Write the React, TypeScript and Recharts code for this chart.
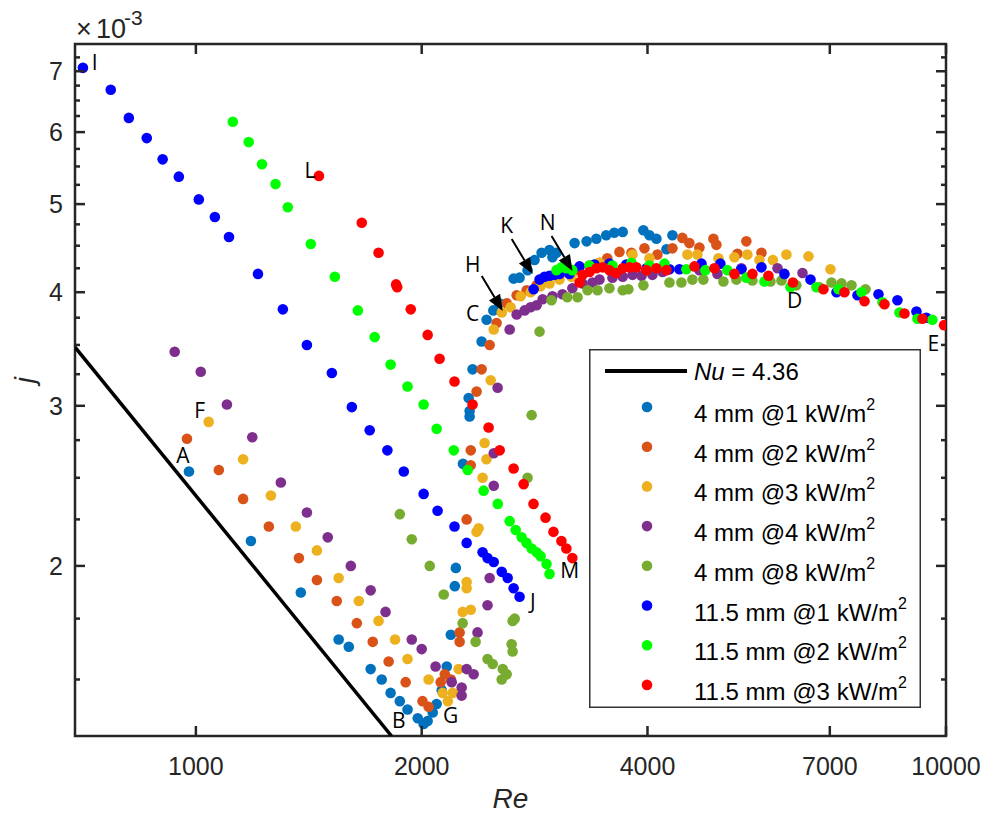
import React from 'react';
import { ScatterChart, Scatter, XAxis, YAxis, Legend, ReferenceArea } from 'recharts';

// ---------------- data ----------------
const xTicks = [1000, 2000, 4000, 7000, 10000];
const yMajorTicks = [2, 3, 4, 5, 6, 7];
const yMinorTicks = [1.5, 1.75, 2.25, 2.5, 2.75, 3.25, 3.5, 3.75, 4.25, 4.5, 4.75, 5.25, 5.5, 5.75, 6.25, 6.5, 6.75, 7.25];
const xDomain = [690, 10000];
const yDomain = [1.3, 7.5];

// Nu = 4.36 laminar line (j in units of 1e-3)
const nuRe = [690, 1823];
const nuJ = [3.48, 1.3];

const re4mm1 = [979, 1184, 1380, 1550, 1599, 1710, 1769, 1818, 1870, 1915, 1976, 2012, 2037, 2069, 2094, 2127, 2160, 2187, 2214, 2221, 2270, 2317, 2317, 2310, 2338, 2404, 2441, 2492, 2538, 2652, 2701, 2768, 2828, 2890, 2961, 3025, 2988, 3198, 3318, 3419, 3524, 3612, 3707, 3950, 4024, 4111, 4240, 4318];
const j4mm1 = [2.54, 2.13, 1.87, 1.66, 1.63, 1.54, 1.5, 1.45, 1.42, 1.39, 1.36, 1.34, 1.35, 1.38, 1.41, 1.46, 1.55, 1.68, 1.9, 1.99, 2.59, 2.92, 2.96, 3.06, 3.29, 3.53, 3.73, 3.82, 3.89, 4.14, 4.15, 4.23, 4.34, 4.42, 4.45, 4.42, 4.37, 4.53, 4.55, 4.58, 4.62, 4.65, 4.66, 4.68, 4.62, 4.58, 4.46, 4.62];

const re4mm2 = [973, 1073, 1156, 1251, 1372, 1450, 1541, 1639, 1721, 1807, 1904, 2005, 2043, 2120, 2147, 2188, 2247, 2247, 2296, 2325, 2325, 2367, 2404, 2464, 2517, 2596, 2677, 2760, 2846, 2943, 3053, 3198, 3348, 3452, 3535, 3670, 3808, 3963, 4124, 4318, 4452, 4549, 4691, 4897, 4942, 5272, 5418, 5675];
const j4mm2 = [2.76, 2.55, 2.37, 2.21, 2.04, 1.93, 1.83, 1.73, 1.65, 1.57, 1.49, 1.42, 1.4, 1.49, 1.52, 1.5, 1.65, 1.69, 2.25, 2.58, 2.68, 3.11, 3.29, 3.5, 3.7, 3.89, 3.97, 4.02, 4.07, 4.13, 4.17, 4.23, 4.28, 4.31, 4.36, 4.43, 4.42, 4.47, 4.4, 4.47, 4.59, 4.53, 4.48, 4.58, 4.51, 4.41, 4.55, 4.42];

const re4mm3 = [1040, 1156, 1259, 1359, 1450, 1550, 1649, 1752, 1843, 1915, 2043, 2133, 2167, 2200, 2240, 2268, 2296, 2296, 2325, 2367, 2382, 2411, 2440, 2426, 2472, 2495, 2557, 2628, 2710, 2794, 2881, 2961, 3053, 3168, 3452, 3820, 4024, 4521, 4662, 4973, 5223, 5435, 5640, 5878, 6127, 6557, 7014];
const j4mm3 = [2.88, 2.62, 2.39, 2.21, 2.08, 1.94, 1.83, 1.74, 1.66, 1.58, 1.5, 1.45, 1.42, 1.45, 1.54, 1.78, 1.92, 1.89, 1.79, 2.18, 2.2, 2.5, 2.62, 2.73, 3.2, 3.64, 3.8, 3.85, 3.96, 4.0, 4.06, 4.09, 4.13, 4.16, 4.31, 4.4, 4.36, 4.4, 4.4, 4.36, 4.37, 4.4, 4.34, 4.34, 4.4, 4.38, 4.24];

const re4mm4 = [937, 1015, 1100, 1189, 1298, 1406, 1499, 1609, 1710, 1790, 1940, 2000, 2087, 2193, 2261, 2261, 2296, 2346, 2374, 2448, 2464, 2495, 2495, 2525, 2620, 2677, 2743, 2794, 2846, 2899, 2988, 3081, 3176, 3277, 3378, 3452, 3592, 3707, 3820, 3928, 4061, 4189, 4691, 4958, 5336, 5962, 6437];
const j4mm4 = [3.44, 3.27, 3.01, 2.77, 2.47, 2.29, 2.15, 2.0, 1.88, 1.78, 1.66, 1.62, 1.55, 1.49, 1.47, 1.44, 1.54, 1.52, 1.69, 1.81, 1.94, 2.45, 2.66, 3.14, 3.64, 3.78, 3.82, 3.85, 3.87, 3.93, 3.96, 3.98, 4.04, 4.09, 4.1, 4.13, 4.15, 4.16, 4.18, 4.17, 4.18, 4.21, 4.23, 4.19, 4.25, 4.25, 4.2];

const re4mm8 = [1870, 1940, 2050, 2140, 2268, 2360, 2448, 2487, 2565, 2596, 2557, 2636, 2644, 2644, 2661, 2768, 2803, 2872, 2979, 3127, 3227, 3328, 3431, 3559, 3707, 3772, 3950, 4279, 4439, 4591, 4748, 5050, 5255, 5520, 5834, 6035, 6317, 6781, 7036, 7256, 7482, 7811];
const j4mm8 = [2.28, 2.14, 2.0, 1.86, 1.73, 1.65, 1.58, 1.56, 1.54, 1.52, 1.5, 1.64, 1.61, 1.74, 1.75, 2.5, 2.93, 3.62, 3.92, 3.95, 3.95, 4.02, 4.02, 4.04, 4.02, 4.03, 4.07, 4.1, 4.1, 4.13, 4.13, 4.11, 4.13, 4.12, 4.11, 4.12, 4.07, 4.05, 4.1, 4.09, 4.07, 4.03];

const re115mm1 = [707, 770, 814, 860, 903, 949, 1009, 1060, 1107, 1210, 1306, 1406, 1518, 1614, 1705, 1800, 1893, 2012, 2100, 2212, 2296, 2411, 2448, 2495, 2557, 2604, 2652, 2701, 2820, 2872, 2916, 2961, 3007, 3053, 3148, 3247, 3399, 3559, 3748, 3989, 4279, 4412, 4721, 5003, 5336, 5675, 6090, 6597, 7145, 7621, 8128, 8615, 9133, 9417];
const j115mm1 = [7.06, 6.68, 6.22, 5.91, 5.6, 5.36, 5.06, 4.84, 4.6, 4.19, 3.83, 3.5, 3.26, 2.99, 2.82, 2.68, 2.54, 2.4, 2.3, 2.21, 2.12, 2.07, 2.04, 2.02, 1.97, 1.94, 1.89, 1.85, 4.03, 4.13, 4.16, 4.17, 4.18, 4.19, 4.19, 4.27, 4.29, 4.3, 4.29, 4.25, 4.24, 4.24, 4.3, 4.3, 4.24, 4.26, 4.19, 4.13, 4.0, 3.97, 3.98, 3.92, 3.81, 3.75];

const re115mm2 = [1120, 1176, 1225, 1277, 1326, 1423, 1532, 1644, 1731, 1818, 1915, 2012, 2094, 2207, 2303, 2419, 2526, 2620, 2669, 2718, 2760, 2803, 2846, 2881, 2934, 2961, 3025, 3071, 3118, 3176, 3348, 3592, 3808, 4024, 4214, 4507, 4778, 5112, 5418, 5728, 6203, 6719, 7188, 7715, 8229, 8669, 9160, 9590];
const j115mm2 = [6.16, 5.85, 5.53, 5.26, 4.96, 4.52, 4.16, 3.82, 3.57, 3.33, 3.15, 3.01, 2.83, 2.68, 2.55, 2.42, 2.34, 2.24, 2.19, 2.15, 2.12, 2.09, 2.07, 2.05, 2.01, 1.96, 4.23, 4.26, 4.25, 4.23, 4.28, 4.28, 4.31, 4.28, 4.3, 4.24, 4.23, 4.23, 4.15, 4.11, 4.05, 4.05, 4.03, 4.0, 3.9, 3.8, 3.74, 3.73];

const re115mm3 = [1459, 1664, 1752, 1849, 1855, 1934, 2037, 2113, 2212, 2338, 2456, 2541, 2652, 2735, 2819, 2925, 2997, 3071, 3118, 3176, 3247, 3277, 3348, 3419, 3487, 3559, 3633, 3707, 3785, 3866, 3987, 4111, 4240, 4620, 4912, 5223, 5520, 5798, 6250, 6865, 7322, 7787, 8279, 8803, 9302, 9940];
const j115mm3 = [5.37, 4.77, 4.42, 4.08, 4.05, 3.83, 3.59, 3.38, 3.19, 3.01, 2.84, 2.68, 2.56, 2.46, 2.34, 2.26, 2.18, 2.13, 2.09, 2.04, 4.1, 4.18, 4.21, 4.25, 4.26, 4.23, 4.2, 4.25, 4.26, 4.26, 4.23, 4.25, 4.23, 4.27, 4.25, 4.19, 4.19, 4.17, 4.1, 4.03, 4.0, 3.91, 3.88, 3.79, 3.74, 3.68];

const seriesNames = ['4 mm @1 kW/m', '4 mm @2 kW/m', '4 mm @3 kW/m', '4 mm @4 kW/m', '4 mm @8 kW/m', '11.5 mm @1 kW/m', '11.5 mm @2 kW/m', '11.5 mm @3 kW/m'];
const seriesColors = ['#0072BD', '#D95319', '#EDB120', '#7E2F8E', '#77AC30', '#0000FF', '#00FF00', '#FF0000'];
const seriesRe = [re4mm1, re4mm2, re4mm3, re4mm4, re4mm8, re115mm1, re115mm2, re115mm3];
const seriesJ = [j4mm1, j4mm2, j4mm3, j4mm4, j4mm8, j115mm1, j115mm2, j115mm3];

// point annotations (letter, Re, j)
const labelTexts = ['I', 'L', 'F', 'A', 'B', 'G', 'C', 'H', 'K', 'N', 'D', 'E', 'M', 'J'];
const labelRe = [733, 1419, 1012, 961, 1864, 2186, 2339, 2339, 2596, 2944, 6283, 9622, 3149, 2812];
const labelJ = [7.17, 5.45, 2.97, 2.65, 1.354, 1.371, 3.795, 4.3, 4.744, 4.78, 3.923, 3.518, 1.98, 1.83];

// arrow tips (H, K, N)
const arrowRe = [2565, 2812, 3178];
const arrowJ = [3.815, 4.189, 4.221];

// ---------------- build ----------------
const zip = (re: number[], j: number[]) => re.map((r, i) => ({ re: r, j: j[i] }));
const series = seriesNames.map((name, i) => ({ name, color: seriesColors[i], data: zip(seriesRe[i], seriesJ[i]) }));
const nuData = zip(nuRe, nuJ);
const labels = labelTexts.map((t, i) => ({ t, re: labelRe[i], j: labelJ[i] }));
const arrows = zip(arrowRe, arrowJ);
const yTicks = [...yMajorTicks, ...yMinorTicks].sort((a, b) => a - b);

const FONT = '"Liberation Sans", Arial, Helvetica, sans-serif';
const ANNOT_FONT = '"Open Sans", "Noto Sans", sans-serif';
const AX = '#262626';

// ---------------- ticks ----------------
function BottomTick(props: any) {
  const { x, y, payload } = props;
  return (
    <g>
      <line x1={x} x2={x} y1={y} y2={y - 10} stroke={AX} strokeWidth={2.5} />
      <text x={x} y={y + 39} textAnchor="middle" fontSize={25} fontFamily={FONT} fill={AX}>{payload.value}</text>
    </g>
  );
}
function TopTick(props: any) {
  const { x, y } = props;
  return <line x1={x} x2={x} y1={y} y2={y + 10} stroke={AX} strokeWidth={2.5} />;
}
function LeftTick(props: any) {
  const { x, y, payload } = props;
  const major = yMajorTicks.includes(payload.value);
  return (
    <g>
      <line x1={x} x2={x + (major ? 10 : 5)} y1={y} y2={y} stroke={AX} strokeWidth={2.5} />
      {major && (
        <text x={x - 12} y={y + 9} textAnchor="end" fontSize={25} fontFamily={FONT} fill={AX}>{payload.value}</text>
      )}
    </g>
  );
}
function RightTick(props: any) {
  const { x, y, payload } = props;
  const major = yMajorTicks.includes(payload.value);
  return <line x1={x} x2={x - (major ? 10 : 5)} y1={y} y2={y} stroke={AX} strokeWidth={2.5} />;
}

// ---------------- axis titles ----------------
function ReTitle(props: any) {
  const vb = props.viewBox || { x: 75, y: 736, width: 871, height: 80 };
  return (
    <text x={vb.x + vb.width / 2} y={vb.y + 72} textAnchor="middle" fontSize={28} fontStyle="italic" fontFamily={FONT} fill={AX}>Re</text>
  );
}
function JTitle(props: any) {
  const vb = props.viewBox || { x: 0, y: 44, width: 75, height: 692 };
  const cx = vb.x + 34;
  const cy = vb.y + vb.height / 2 - 10;
  return (
    <text x={cx} y={cy} transform={`rotate(-90, ${cx}, ${cy})`} textAnchor="middle" fontSize={28} fontStyle="italic" fontFamily={FONT} fill={AX}>j</text>
  );
}
function ExpTitle(props: any) {
  const vb = props.viewBox || { x: 75, y: 43, width: 871, height: 1 };
  const bx = vb.x;
  const by = vb.y - 5;
  return (
    <g>
      <text x={bx + 1} y={by} style={{ fontSize: 27, fontFamily: FONT, fill: AX }}>×</text>
      <text x={bx + 21} y={by} style={{ fontSize: 27, fontFamily: FONT, fill: AX }}>10</text>
      <text x={bx + 49} y={by - 13} style={{ fontSize: 21, fontFamily: FONT, fill: AX }}>-3</text>
    </g>
  );
}

// ---------------- shapes ----------------
const dotShape = (color: string) => (p: any) => <circle cx={p.cx} cy={p.cy} r={5.3} fill={color} />;

function LabelShape(p: any) {
  return (
    <text x={p.cx} y={p.cy} textAnchor="middle" dominantBaseline="central" fontSize={21} fontFamily={ANNOT_FONT} fill="#000">
      {p.payload.t}
    </text>
  );
}

function ArrowShape(p: any) {
  const { cx, cy } = p;
  const dx = 21, dy = 35;
  const L = Math.hypot(dx, dy);
  const ux = dx / L, uy = dy / L;
  const head = 16, half = 6.5;
  const bx = cx - ux * head, by = cy - uy * head;
  const px = -uy, py = ux;
  return (
    <g>
      <line x1={cx - dx} y1={cy - dy} x2={bx} y2={by} stroke="#000" strokeWidth={2} />
      <polygon points={`${cx},${cy} ${bx + px * half},${by + py * half} ${bx - px * half},${by - py * half}`} fill="#000" />
    </g>
  );
}

// ---------------- legend ----------------
function LegendBox() {
  return (
    <svg width={332} height={359} style={{ display: 'block' }}>
      <rect x={0.75} y={0.75} width={330.5} height={357.5} fill="#fff" stroke="#333" strokeWidth={1.5} />
      <line x1={16} x2={98} y1={22} y2={22} stroke="#000" strokeWidth={4} />
      <text x={105} y={31} fontSize={24} fontFamily={FONT} fill="#000">
        <tspan fontStyle="italic">Nu</tspan>
        {' = 4.36'}
      </text>
      {series.map((s, i) => {
        const cy = 58 + i * 39.7;
        return (
          <g key={s.name}>
            <circle cx={58} cy={cy} r={5.3} fill={s.color} />
            <text x={105} y={cy + 15} fontSize={24} fontFamily={FONT} fill="#000">
              {s.name}
              <tspan dy={-12} fontSize={16}>2</tspan>
            </text>
          </g>
        );
      })}
    </svg>
  );
}

export default function App() {
  return (
    <div style={{ width: 985, height: 816, background: '#fff' }}>
      <style>{'body{margin:0;background:#fff}'}</style>
      <ScatterChart width={985} height={816} margin={{ top: 43, right: 38, bottom: 0, left: 0 }}>
        <XAxis xAxisId="b" dataKey="re" type="number" scale="log" domain={xDomain} allowDataOverflow ticks={xTicks} interval={0}
          tickSize={0} tickMargin={0} tickLine={false} axisLine={false} tick={<BottomTick />} height={80} label={<ReTitle />} />
        <XAxis xAxisId="t" orientation="top" dataKey="re" type="number" scale="log" domain={xDomain} allowDataOverflow ticks={xTicks} interval={0}
          tickSize={0} tickMargin={0} tickLine={false} axisLine={false} tick={<TopTick />} height={1} label={<ExpTitle />} />
        <YAxis yAxisId="l" dataKey="j" type="number" scale="log" domain={yDomain} allowDataOverflow ticks={yTicks} interval={0}
          tickSize={0} tickMargin={0} tickLine={false} axisLine={false} tick={<LeftTick />} width={75} label={<JTitle />} />
        <YAxis yAxisId="r" orientation="right" dataKey="j" type="number" scale="log" domain={yDomain} allowDataOverflow ticks={yTicks} interval={0}
          tickSize={0} tickMargin={0} tickLine={false} axisLine={false} tick={<RightTick />} width={1} />
        <Scatter name="Nu = 4.36" data={nuData} xAxisId="t" yAxisId="r" line={{ stroke: '#000', strokeWidth: 3.5 }} lineType="joint"
          shape={() => <g />} isAnimationActive={false} />
        {series.map((s) => (
          <Scatter key={s.name} name={s.name + '²'} data={s.data} xAxisId="b" yAxisId="l" fill={s.color}
            shape={dotShape(s.color)} isAnimationActive={false} />
        ))}
        <Scatter data={labels} xAxisId="b" yAxisId="l" shape={LabelShape} isAnimationActive={false} legendType="none" />
        <Scatter data={arrows} xAxisId="b" yAxisId="l" shape={ArrowShape} isAnimationActive={false} legendType="none" />
        <ReferenceArea xAxisId="b" yAxisId="l" x1={xDomain[0]} x2={xDomain[1]} y1={yDomain[0]} y2={yDomain[1]}
          fill="none" fillOpacity={0} stroke={AX} strokeWidth={2.5} ifOverflow="visible" />
        <Legend content={() => <LegendBox />} layout="vertical" align="center" verticalAlign="middle"
          wrapperStyle={{ left: 589, top: 349, width: 332, height: 359 }} />
      </ScatterChart>
    </div>
  );
}
